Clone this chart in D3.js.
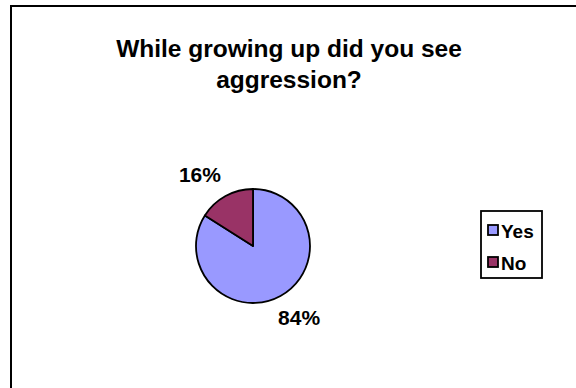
<!DOCTYPE html>
<html>
<head>
<meta charset="utf-8">
<script src="https://cdn.jsdelivr.net/npm/d3@7"></script>
<style>
  html, body { margin: 0; padding: 0; background: #fff; }
  svg { display: block; font-family: "Liberation Sans", Arial, sans-serif; }
</style>
</head>
<body>
<svg id="chart" width="576" height="388"></svg>
<script>
// Survey answers, in percent
const categories = ["Yes", "No"];
const values = [84, 16];
const colors = ["#9999FF", "#993366"];
const titleLines = ["While growing up did you see", "aggression?"];

const svg = d3.select("#chart");

// Chart area frame (runs off the right and bottom edges)
svg.append("rect")
  .attr("x", 11).attr("y", 6)
  .attr("width", 600).attr("height", 420)
  .attr("fill", "#fff")
  .attr("stroke", "#000")
  .attr("stroke-width", 2);

// Title
svg.append("text")
  .attr("text-anchor", "middle")
  .attr("font-weight", "bold")
  .attr("font-size", 24.5)
  .selectAll("tspan")
  .data(titleLines)
  .join("tspan")
  .attr("x", 289)
  .attr("y", (d, i) => 57 + i * 31)
  .text(d => d);

// Pie
const cx = 253, cy = 246, r = 57;
const pie = d3.pie().sort(null).value(d => d)(values);
const arc = d3.arc().innerRadius(0).outerRadius(r);

const g = svg.append("g").attr("transform", `translate(${cx},${cy})`);
g.selectAll("path")
  .data(pie)
  .join("path")
  .attr("d", arc)
  .attr("fill", (d, i) => colors[i])
  .attr("stroke", "#000")
  .attr("stroke-width", 1.8)
  .attr("stroke-linejoin", "round");

// Percent labels outside the slices (Yes, No)
const labelArc = d3.arc().innerRadius(r + 22).outerRadius(r + 22);
const labelOffsets = [[8, 2], [-15, -2]];
g.selectAll("text")
  .data(pie)
  .join("text")
  .attr("transform", (d, i) => {
    const p = labelArc.centroid(d);
    return `translate(${p[0] + labelOffsets[i][0]},${p[1] + labelOffsets[i][1]})`;
  })
  .attr("text-anchor", "middle")
  .attr("dominant-baseline", "central")
  .attr("font-weight", "bold")
  .attr("font-size", 21)
  .text(d => d3.format(".0%")(d.data / 100));

// Legend
const lg = svg.append("g").attr("transform", "translate(481,211)");
lg.append("rect")
  .attr("width", 61).attr("height", 67)
  .attr("fill", "#fff")
  .attr("stroke", "#000")
  .attr("stroke-width", 1.8);
const items = lg.selectAll("g.item")
  .data(categories)
  .join("g")
  .attr("class", "item")
  .attr("transform", (d, i) => `translate(7,${19 + i * 32})`);
items.append("rect")
  .attr("x", 0).attr("y", -5)
  .attr("width", 10).attr("height", 10)
  .attr("fill", (d, i) => colors[i])
  .attr("stroke", "#000")
  .attr("stroke-width", 1.8);
items.append("text")
  .attr("x", 13).attr("y", 1)
  .attr("dominant-baseline", "central")
  .attr("font-weight", "bold")
  .attr("font-size", 19)
  .text(d => d);
</script>
</body>
</html>
